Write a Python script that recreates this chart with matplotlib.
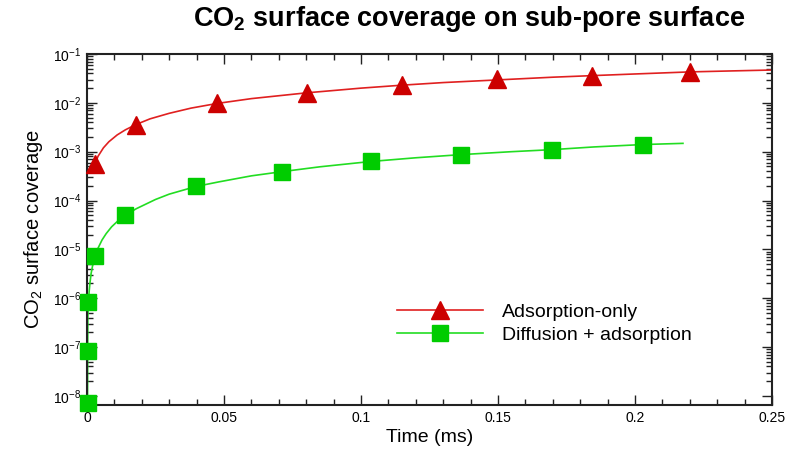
import numpy as np
import matplotlib.pyplot as plt
from matplotlib.lines import Line2D
from matplotlib.ticker import MultipleLocator, FixedLocator, NullFormatter

plt.rcParams['font.family'] = ['Liberation Sans', 'DejaVu Sans']
plt.rcParams['mathtext.fontset'] = 'custom'
plt.rcParams['mathtext.rm'] = 'Liberation Sans'
plt.rcParams['mathtext.bf'] = 'Liberation Sans:bold'
plt.rcParams['mathtext.it'] = 'Liberation Sans:italic'
plt.rcParams['mathtext.default'] = 'regular'

# adsorption-only: curve and triangle symbols (time in ms)
ads_t = [0.0029, 0.004, 0.006, 0.008, 0.011, 0.014, 0.0179, 0.023, 0.030, 0.038, 0.0474, 0.060,
         0.080, 0.100, 0.115, 0.130, 0.150, 0.170, 0.184, 0.200, 0.220, 0.235, 0.250]
ads_y = [5.5e-4, 8e-4, 1.2e-3, 1.6e-3, 2.2e-3, 2.8e-3, 3.6e-3, 4.7e-3, 6.1e-3, 7.8e-3, 9.7e-3, 1.22e-2,
         1.6e-2, 2.0e-2, 2.3e-2, 2.6e-2, 2.95e-2, 3.35e-2, 3.6e-2, 3.9e-2, 4.3e-2, 4.5e-2, 4.7e-2]
ads_mt = [0.0029, 0.0179, 0.0474, 0.0803, 0.115, 0.1496, 0.1843, 0.220]
ads_my = [5.5e-4, 3.6e-3, 1.0e-2, 1.6e-2, 2.33e-2, 3.05e-2, 3.6e-2, 4.3e-2]

# diffusion + adsorption: curve and square symbols
dif_t = [0.0002, 0.0003, 0.0004, 0.0006, 0.0008, 0.0011, 0.0015, 0.002, 0.0025, 0.003, 0.004,
         0.0055, 0.007, 0.009, 0.011, 0.0139, 0.018, 0.025, 0.030, 0.0398, 0.048, 0.060, 0.0712,
         0.085, 0.1036, 0.120, 0.1365, 0.155, 0.1697, 0.185, 0.2029, 0.2175]
dif_y = [1e-8, 4e-7, 5.5e-7, 9.5e-7, 1.4e-6, 2.1e-6, 3.2e-6, 4.5e-6, 5.9e-6, 7.3e-6, 1.05e-5,
         1.56e-5, 2.1e-5, 2.9e-5, 3.7e-5, 5.0e-5, 6.8e-5, 1.05e-4, 1.35e-4, 1.94e-4, 2.4e-4, 3.2e-4, 3.9e-4,
         4.9e-4, 6.3e-4, 7.5e-4, 8.7e-4, 1.0e-3, 1.1e-3, 1.25e-3, 1.4e-3, 1.48e-3]
dif_mt = [0.0002, 0.0002, 0.0004, 0.003, 0.0139, 0.0398, 0.0712, 0.1036, 0.1365, 0.1697, 0.2029]
dif_my = [7e-9, 8.4e-8, 8.4e-7, 7.3e-6, 5.0e-5, 1.94e-4, 3.9e-4, 6.3e-4, 8.7e-4, 1.1e-3, 1.38e-3]

y_major = [1e-8, 1e-7, 1e-6, 1e-5, 1e-4, 1e-3, 1e-2, 1e-1]
x_major = [0, 0.05, 0.1, 0.15, 0.2, 0.25]
x_labels = ['0', '0.05', '0.1', '0.15', '0.2', '0.25']

red_line, red_mark = '#e02020', '#cc0000'
grn_line, grn_mark = '#22dd22', '#00cc00'

fig = plt.figure(figsize=(7.9, 4.5), dpi=100)
ax = fig.add_axes([87/790, 1-405/450, (772-87)/790, (405-54)/450])

ax.plot(ads_t, ads_y, color=red_line, lw=1.2)
ax.plot(ads_mt, ads_my, ls='none', marker='^', ms=13, color=red_mark, mec=red_mark,
        clip_on=False, zorder=5)
ax.plot(dif_t, dif_y, color=grn_line, lw=1.2)
ax.plot(dif_mt, dif_my, ls='none', marker='s', ms=12, color=grn_mark, mec=grn_mark,
        clip_on=False, zorder=5)

ax.set_yscale('log')
ax.set_xlim(0, 0.25)
ax.set_ylim(6.5e-9, 0.1)
ax.set_xticks(x_major)
ax.set_xticklabels(x_labels)
ax.xaxis.set_minor_locator(MultipleLocator(0.01))
ax.yaxis.set_major_locator(FixedLocator(y_major))
minors = [m * d for d in y_major[:-1] for m in range(2, 10)]
ax.yaxis.set_minor_locator(FixedLocator(minors))
ax.yaxis.set_minor_formatter(NullFormatter())

ax.tick_params(which='both', direction='in', top=True, right=True, width=1, labelsize=10,
               color='#222222')
ax.tick_params(which='major', length=7, pad=4)
ax.tick_params(which='minor', length=4)
for s in ax.spines.values():
    s.set_linewidth(1.5)
    s.set_color('#222222')

ax.set_xlabel('Time (ms)', fontsize=14, labelpad=3)
ax.set_ylabel('CO$_2$ surface coverage', fontsize=14.5, labelpad=6)

fig.text(469/790, 1-19/450, r'CO$_\mathbf{2}$ surface coverage on sub-pore surface',
         fontsize=19.5, fontweight='bold', ha='center', va='center')

handles = [Line2D([], [], color=red_line, lw=1.2, marker='^', ms=13, mfc=red_mark, mec=red_mark),
           Line2D([], [], color=grn_line, lw=1.2, marker='s', ms=12, mfc=grn_mark, mec=grn_mark)]
ax.legend(handles, ['Adsorption-only', 'Diffusion + adsorption'], frameon=False, fontsize=14,
          loc='upper left', bbox_to_anchor=(397/790, 1-303/450), bbox_transform=fig.transFigure,
          borderpad=0, borderaxespad=0, handlelength=4.4, handletextpad=1.0, labelspacing=0.3)

fig.savefig('out.png', dpi=100)
